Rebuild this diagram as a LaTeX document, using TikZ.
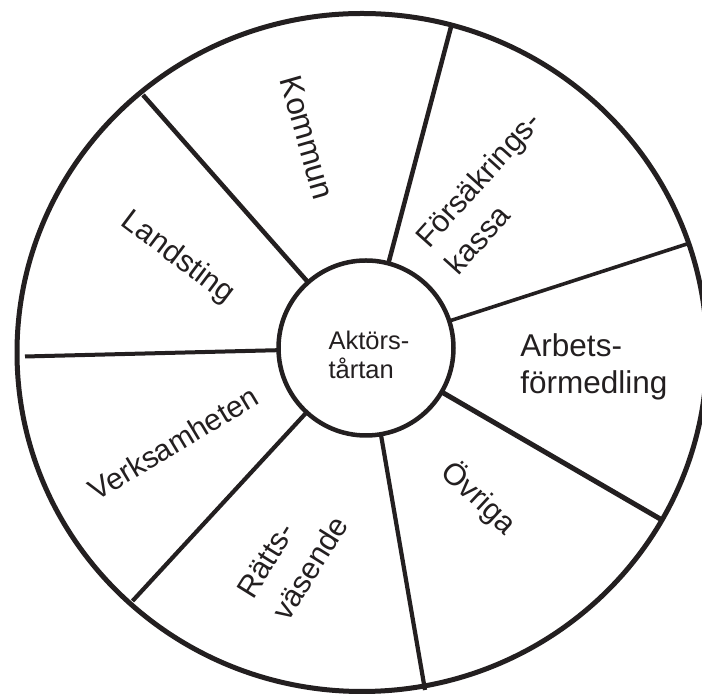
\documentclass[tikz,border=0pt]{standalone}
\usepackage{fontspec}
\setmainfont{Liberation Sans}
\definecolor{ink}{RGB}{35,31,32}
\begin{document}
\begin{tikzpicture}[x=1pt,y=1pt,
  spoke/.style={draw=ink,line width=#1},
  spoke/.default=4.2pt,
  lbl/.style={text=ink,inner sep=0pt,align=left,font=\fontsize{30.5}{40}\selectfont},
  hub/.style={circle,draw=ink,fill=white,line width=4.5pt,minimum size=175pt,inner sep=0pt}]
\useasboundingbox (0,0) rectangle (702,695);
\clip (0,0) rectangle (702,695);
\fill[white] (0,0) rectangle (702,695);
% centre of the hub
\coordinate (c) at (366,347);
% outer ends of the spokes
\coordinate (o1) at (451.5,670);
\coordinate (o2) at (690,452);
\coordinate (o3) at (662,175);
\coordinate (o4) at (425,5);
\coordinate (o5) at (132.5,94);
\coordinate (o6) at (25,338.5);
\coordinate (o7) at (143,600);
% outer rim
\draw[ink,line width=5pt] (362,342.5) ellipse [x radius=345, y radius=339];
% spokes
\draw[spoke=4.5pt] (c) -- (o1);
\draw[spoke=3.6pt] (c) -- (o2);
\draw[spoke=5pt] (c) -- (o3);
\draw[spoke=4.2pt] (c) -- (o4);
\draw[spoke=4.2pt] (c) -- (o5);
\draw[spoke=4pt] (c) -- (o6);
\draw[spoke=4.5pt] (c) -- (o7);
% hub
\node[hub] (hub) at (c) {};
\node[lbl,font=\fontsize{25.5}{29}\selectfont] (akt) at (369,340.6) {Aktörs-\\tårtan};
% sector labels
\node[lbl,font=\fontsize{31.5}{38}\selectfont,rotate=-74] (kommun) at (307.5,557.5) {Kommun};
\node[lbl,font=\fontsize{30.5}{38}\selectfont,rotate=-37] (landsting) at (177.5,437) {Landsting};
\node[lbl,rotate=48] (fk) at (492.5,502.5) {Försäkrings-\\kassa};
\node[lbl,font=\fontsize{31.5}{37}\selectfont] (af) at (594,328.5) {Arbets-\\förmedling};
\node[lbl,rotate=-43] (ovriga) at (479,197) {Övriga};
\node[lbl,font=\fontsize{30.5}{42}\selectfont,rotate=58] (ratt) at (292.8,138) {Rätts-\\väsende};
\node[lbl,font=\fontsize{30}{38}\selectfont,rotate=31] (verk) at (173.3,251.7) {Verksamheten};
\end{tikzpicture}
\end{document}
